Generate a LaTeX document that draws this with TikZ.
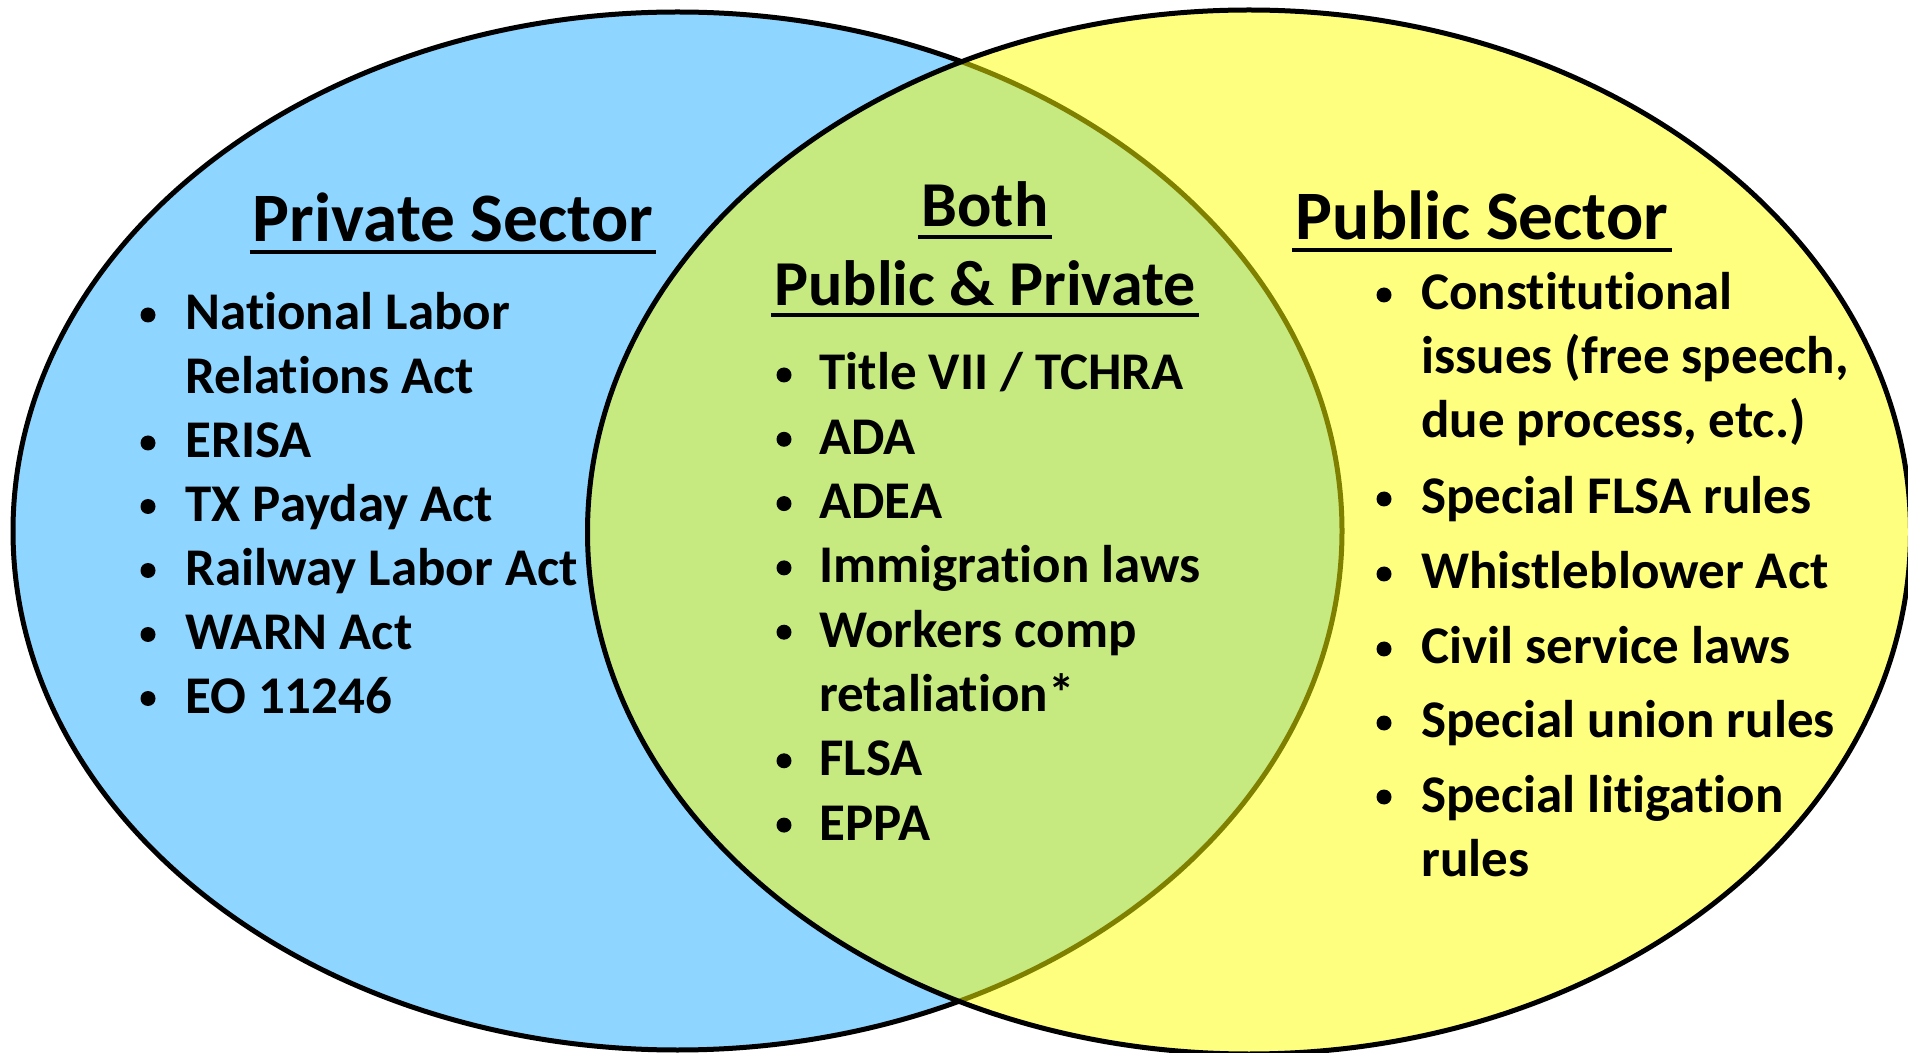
\documentclass[tikz,border=0pt]{standalone}
\usepackage{fontspec}
\setmainfont{Carlito}[Ligatures=NoCommon]
\begin{document}
\begin{tikzpicture}[x=0.5pt,y=-0.5pt,
  headtxt/.style={inner sep=0pt, anchor=base, font=\fontsize{34.7}{40}\selectfont\bfseries},
  midhead/.style={headtxt, font=\fontsize{32}{36}\selectfont\bfseries},
  itemtxt/.style={inner sep=0pt, anchor=base west, font=\fontsize{26.5}{31}\selectfont\bfseries},
  dot/.style={circle, fill=black, inner sep=0pt, minimum size=7.5pt},
  ulline/.style={line width=2pt},
  rim/.style={line width=2.5pt, draw=black}]
\definecolor{privblue}{RGB}{142,214,255}
\definecolor{pubyellow}{RGB}{255,255,0}
\useasboundingbox (0,0) rectangle (1908,1053);
\clip (0,0) rectangle (1908,1053);

% the two sets
\draw[rim, fill=privblue] (677.5,531) ellipse [x radius=664.5, y radius=519];
\draw[rim, fill=pubyellow, fill opacity=0.5] (1249,532) ellipse [x radius=661.5, y radius=522];

% headings
\node[headtxt] (hpriv) at (453,242) {Private Sector};
\node[midhead] (hboth) at (985,227) {Both};
\node[midhead] (hbp) at (985,305.5) {Public \& Private};
\node[headtxt] (hpub) at (1482,240) {Public Sector};
\foreach \h in {hpriv,hboth,hbp,hpub}
  \draw[ulline] ([xshift=-1.5pt,yshift=-5pt]\h.base west) -- ([xshift=1.5pt,yshift=-5pt]\h.base east);

% private sector list
\node[itemtxt] (l1) at (185,330) {National Labor};
\node[itemtxt] (l1b) at (185,394) {Relations Act};
\node[itemtxt] (l2) at (185,458) {ERISA};
\node[itemtxt] (l3) at (185,521.5) {TX Payday Act};
\node[itemtxt] (l4) at (185,585.5) {Railway Labor Act};
\node[itemtxt] (l5) at (185,649.5) {WARN Act};
\node[itemtxt] (l6) at (185,713.5) {EO 11246};
\foreach \y [count=\i] in {330,458,521.5,585.5,649.5,713.5}
  \node[dot] (ld\i) at (148,\y-15) {};

% both sectors list
\node[itemtxt] (m1) at (819,390) {Title VII / TCHRA};
\node[itemtxt] (m2) at (819,454.3) {ADA};
\node[itemtxt] (m3) at (819,518.6) {ADEA};
\node[itemtxt] (m4) at (819,582.9) {Immigration laws};
\node[itemtxt] (m5) at (819,647.2) {Workers comp};
\node[itemtxt] (m5b) at (819,711.5) {retaliation*};
\node[itemtxt] (m6) at (819,775.8) {FLSA};
\node[itemtxt] (m7) at (819,840.1) {EPPA};
\foreach \y [count=\i] in {390,454.3,518.6,582.9,647.2,775.8,840.1}
  \node[dot] (md\i) at (784,\y-15) {};

% public sector list
\node[itemtxt] (r1) at (1421,310) {Constitutional};
\node[itemtxt] (r1b) at (1421,374) {issues (free speech,};
\node[itemtxt] (r1c) at (1421,438) {due process, etc.)};
\node[itemtxt] (r2) at (1421,514) {Special FLSA rules};
\node[itemtxt] (r3) at (1421,589) {Whistleblower Act};
\node[itemtxt] (r4) at (1421,664) {Civil service laws};
\node[itemtxt] (r5) at (1421,738) {Special union rules};
\node[itemtxt] (r6) at (1421,812) {Special litigation};
\node[itemtxt] (r6b) at (1421,876) {rules};
\foreach \y [count=\i] in {310,514,589,664,738,812}
  \node[dot] (rd\i) at (1384,\y-15) {};
\end{tikzpicture}
\end{document}
